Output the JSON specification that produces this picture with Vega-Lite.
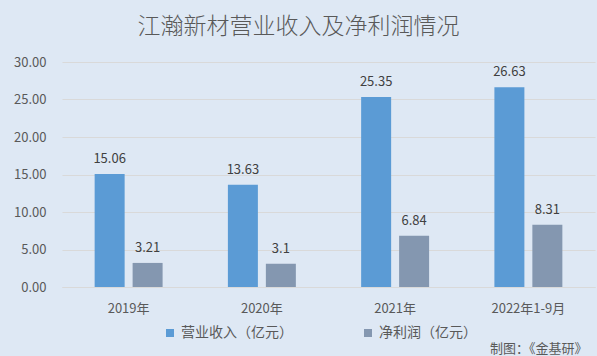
{
  "$schema": "https://vega.github.io/schema/vega-lite/v6.json",
  "width": 533,
  "height": 225,
  "autosize": {"type": "none"},
  "padding": {"left": 62, "top": 62, "right": 2, "bottom": 69},
  "background": "#dee8f4",
  "config": {
    "font": "Noto Sans CJK SC",
    "view": {"stroke": null}
  },
  "title": {
    "text": "江瀚新材营业收入及净利润情况",
    "fontSize": 23,
    "font": "Noto Sans CJK SC",
    "fontWeight": 300,
    "color": "#595959",
    "anchor": "middle",
    "dx": -30,
    "offset": 17
  },
  "data": {
    "values": [
      {"period": "2019年", "series": "营业收入（亿元）", "value": 15.06},
      {"period": "2019年", "series": "净利润（亿元）", "value": 3.21},
      {"period": "2020年", "series": "营业收入（亿元）", "value": 13.63},
      {"period": "2020年", "series": "净利润（亿元）", "value": 3.1},
      {"period": "2021年", "series": "营业收入（亿元）", "value": 25.35},
      {"period": "2021年", "series": "净利润（亿元）", "value": 6.84},
      {"period": "2022年1-9月", "series": "营业收入（亿元）", "value": 26.63},
      {"period": "2022年1-9月", "series": "净利润（亿元）", "value": 8.31}
    ]
  },
  "encoding": {
    "x": {
      "field": "period",
      "type": "nominal",
      "sort": null,
      "scale": {"paddingInner": 0.49, "paddingOuter": 0.245},
      "axis": {
        "labelAngle": 0,
        "title": "制图：《金基研》",
        "titleAnchor": "end",
        "titleAlign": "right",
        "titleX": 525,
        "titleY": 61,
        "titleBaseline": "middle",
        "titleFontSize": 13,
        "titleFontWeight": "normal",
        "titleColor": "#595959",
        "ticks": false,
        "domainColor": "#d9d9d9",
        "labelPadding": 15,
        "labelFontSize": 13,
        "labelColor": "#595959"
      }
    },
    "xOffset": {
      "field": "series",
      "type": "nominal",
      "sort": ["营业收入（亿元）", "净利润（亿元）"],
      "scale": {"paddingInner": 0.21}
    },
    "y": {
      "field": "value",
      "type": "quantitative",
      "scale": {"domain": [0, 30]},
      "axis": {
        "title": null,
        "values": [0, 5, 10, 15, 20, 25, 30],
        "format": ".2f",
        "gridColor": "#d9d9d9",
        "domain": false,
        "ticks": false,
        "labelPadding": 16,
        "labelFontSize": 13,
        "labelColor": "#595959"
      }
    }
  },
  "layer": [
    {
      "mark": {"type": "bar"},
      "encoding": {
        "color": {
          "field": "series",
          "type": "nominal",
          "scale": {
            "domain": ["营业收入（亿元）", "净利润（亿元）"],
            "range": ["#5b9bd5", "#8497b0"]
          },
          "legend": {
            "title": null,
            "orient": "none",
            "legendX": 101,
            "legendY": 264,
            "direction": "horizontal",
            "symbolType": "square",
            "symbolSize": 64,
            "symbolStrokeWidth": 0,
            "labelFontSize": 14,
            "labelColor": "#595959",
            "labelOffset": 4,
            "columnPadding": 68
          }
        }
      }
    },
    {
      "mark": {"type": "text", "baseline": "bottom", "dy": -8, "fontSize": 13, "color": "#404040"},
      "encoding": {
        "text": {"field": "value", "type": "quantitative"}
      }
    }
  ]
}
